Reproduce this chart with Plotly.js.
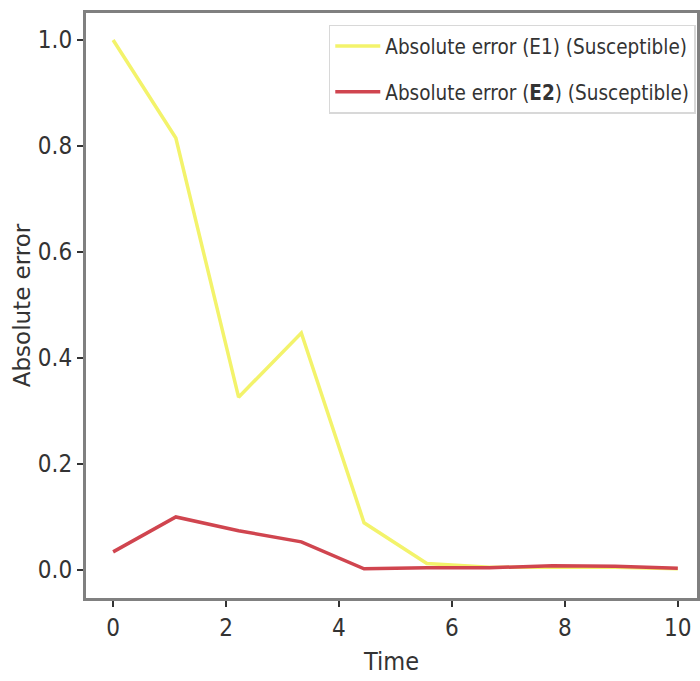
<!DOCTYPE html>
<html>
<head>
<meta charset="utf-8">
<script src="https://cdn.plot.ly/plotly-3.0.1.min.js"></script>
<style>html,body{margin:0;padding:0;background:#fff;}#chart{width:700px;height:681px;}</style>
</head>
<body>
<div id="chart"></div>
<script>
const time = [0, 1.111, 2.222, 3.333, 4.444, 5.556, 6.667, 7.778, 8.889, 10];
const errorE1 = [1.0, 0.815, 0.326, 0.447, 0.089, 0.012, 0.005, 0.005, 0.005, 0.002];
const errorE2 = [0.034, 0.100, 0.074, 0.053, 0.002, 0.004, 0.004, 0.008, 0.007, 0.003];
const xTicks = [0, 2, 4, 6, 8, 10];
const yTicks = [0.0, 0.2, 0.4, 0.6, 0.8, 1.0];
const yTickLabels = ['0.0', '0.2', '0.4', '0.6', '0.8', '1.0'];
const seriesNames = ['Absolute error (E1) (Susceptible)', 'Absolute error (<b>E2</b>) (Susceptible)'];

const cond = 'DejaVu Sans Condensed, sans-serif';

const traces = [
  {x: time, y: errorE1, type: 'scatter', mode: 'lines', name: seriesNames[0], legendgroup: 'a',
   line: {color: '#f3f36b', width: 3.5}},
  {x: time, y: errorE2, type: 'scatter', mode: 'lines', name: seriesNames[1], legendgroup: 'b',
   line: {color: '#d0454f', width: 3.5}}
];

const layout = {
  width: 700, height: 681,
  margin: {l: 86, r: 3, t: 13, b: 83},
  paper_bgcolor: '#fff', plot_bgcolor: '#fff',
  font: {family: cond, size: 18, color: '#333'},
  showlegend: true,
  legend: {x: 0.998, xanchor: 'right', y: 0.98, yanchor: 'top',
           bgcolor: 'rgba(255,255,255,0.9)', bordercolor: '#d8d8d8', borderwidth: 1.5,
           font: {family: cond, size: 20.5, color: '#333'},
           traceorder: 'grouped', tracegroupgap: 16, itemwidth: 45},
  xaxis: {range: [-0.48, 10.34], tickvals: xTicks, ticktext: xTicks.map(String),
          showgrid: false, zeroline: false, showline: true, mirror: true,
          linecolor: '#808080', linewidth: 3, ticks: 'outside', ticklen: 6, tickwidth: 1.5,
          tickcolor: '#333', tickfont: {family: cond, size: 24, color: '#333'},
          title: {text: 'Time', font: {family: cond, size: 25, color: '#333'}, standoff: 12}},
  yaxis: {range: [-0.053, 1.051], tickvals: yTicks, ticktext: yTickLabels,
          showgrid: false, zeroline: false, showline: true, mirror: true,
          linecolor: '#808080', linewidth: 3, ticks: 'outside', ticklen: 6, tickwidth: 1.5,
          tickcolor: '#333', tickfont: {family: cond, size: 24, color: '#333'},
          title: {text: 'Absolute error', font: {family: 'DejaVu Sans, sans-serif', size: 23, color: '#333'}, standoff: 1}}
};

Plotly.newPlot('chart', traces, layout, {displayModeBar: false, staticPlot: true});
</script>
</body>
</html>
